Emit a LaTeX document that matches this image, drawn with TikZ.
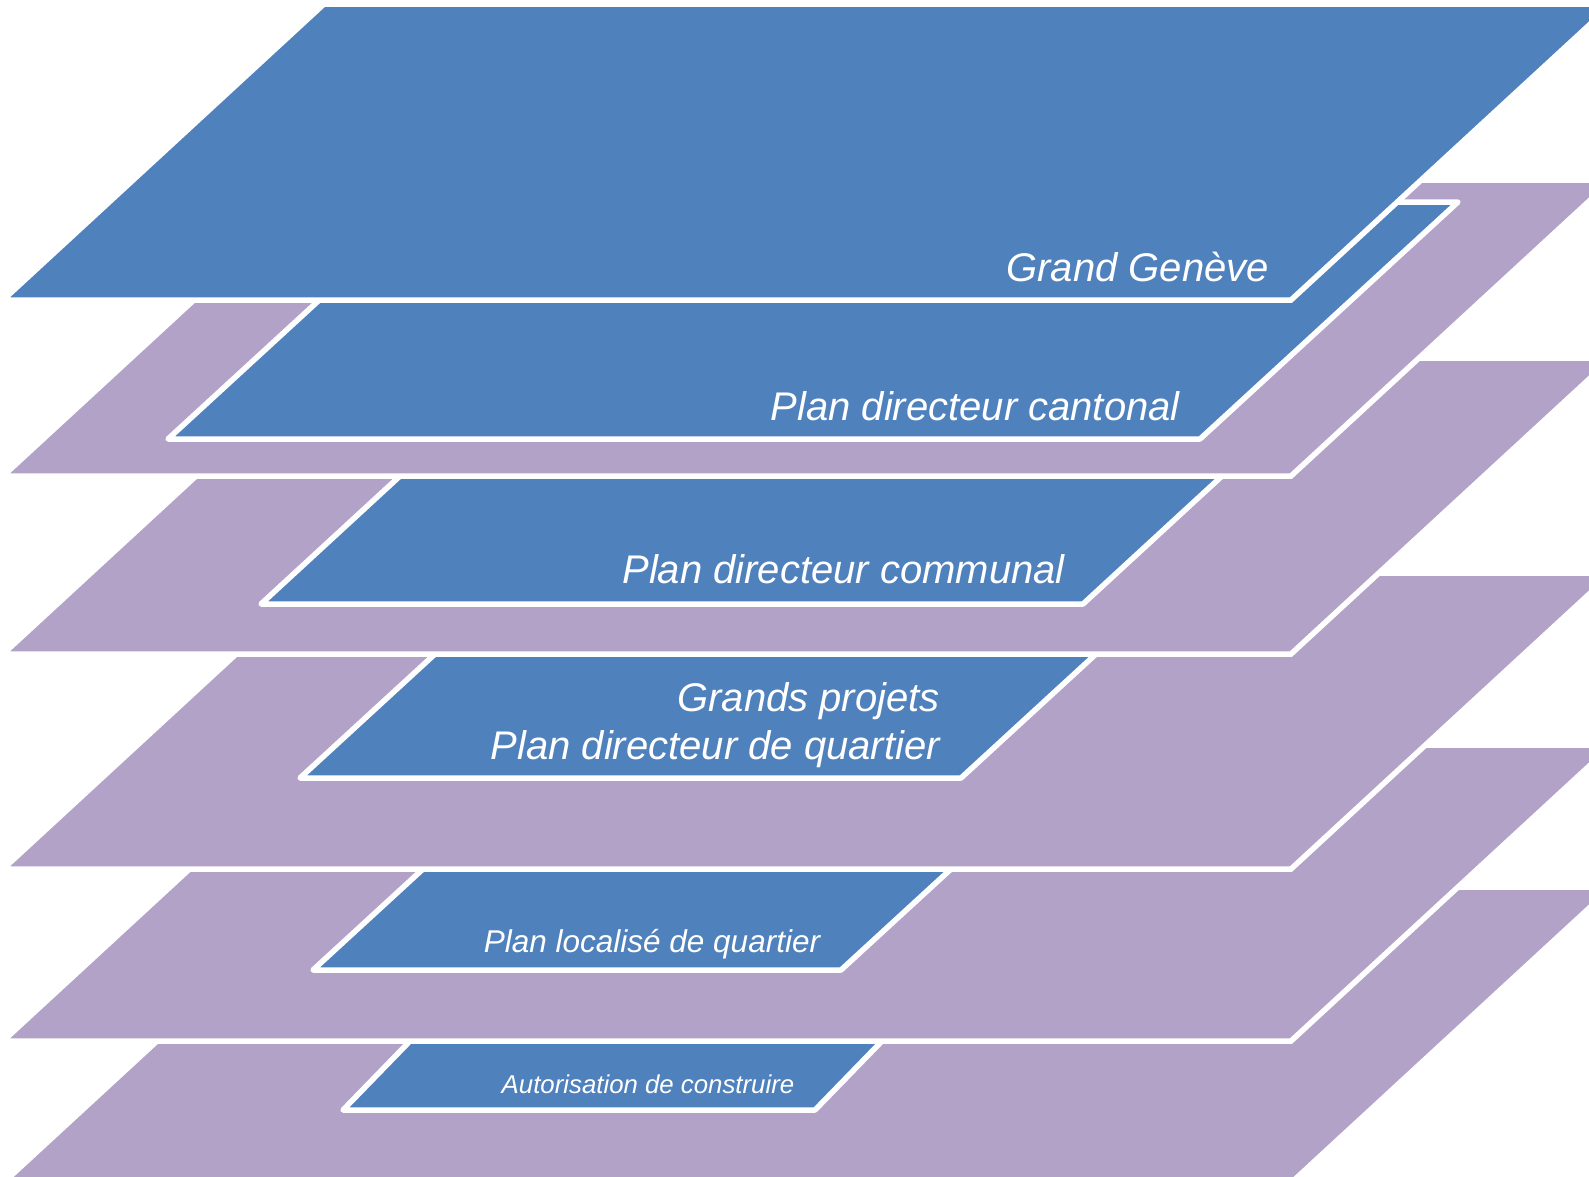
\documentclass[tikz,border=0pt]{standalone}
\usepackage{fontspec}
\setmainfont{Liberation Sans}
\definecolor{layerblue}{HTML}{4F81BD}
\definecolor{layerpurple}{HTML}{B2A2C7}
\tikzset{
  layer/.style={fill=layerpurple, draw=white, line width=5.5pt, line join=miter},
  toplayer/.style={fill=layerblue, draw=white, line width=5.5pt, line join=miter},
  innerplan/.style={fill=layerblue, draw=white, line width=5.5pt, line join=round},
  lbl/.style={text=white, font=\fontsize{40}{48}\selectfont\itshape, inner sep=0pt, anchor=base east},
  lblmid/.style={text=white, font=\fontsize{31.5}{38}\selectfont\itshape, inner sep=0pt, anchor=base},
  lblsmall/.style={text=white, font=\fontsize{25.8}{31}\selectfont\itshape, inner sep=0pt, anchor=base},
}
\begin{document}
\begin{tikzpicture}[x=1pt,y=-1pt]
\useasboundingbox (0,0) rectangle (1589,1176);
\clip (0,0) rectangle (1589,1176);
% layer 6
\draw[layer] (3,1183) -- (1291,1183) -- (1612,887) -- (324,887) -- cycle;
\draw[innerplan] (343,1110) -- (815,1110) -- (882,1041) -- (410,1041) -- cycle;
% layer 5
\draw[layer] (3,1041) -- (1291,1041) -- (1612,745) -- (324,745) -- cycle;
\draw[innerplan] (313,970) -- (841,970) -- (951,869) -- (423,869) -- cycle;
% layer 4
\draw[layer] (3,869) -- (1291,869) -- (1612,573) -- (324,573) -- cycle;
\draw[innerplan] (300,778) -- (961,778) -- (1096,654) -- (435,654) -- cycle;
% layer 3
\draw[layer] (3,654) -- (1291,654) -- (1612,358) -- (324,358) -- cycle;
\draw[innerplan] (261,604) -- (1083,604) -- (1222,476) -- (400,476) -- cycle;
% layer 2
\draw[layer] (3,476) -- (1291,476) -- (1612,180) -- (324,180) -- cycle;
\draw[innerplan] (168,439) -- (1200,439) -- (1458,202) -- (426,202) -- cycle;
% layer 1
\draw[toplayer] (3,300) -- (1291,300) -- (1612,4) -- (324,4) -- cycle;
% labels
\node[lbl] (t1) at (1269,281) {Grand Genève};
\node[lbl] (t2) at (1180,420) {Plan directeur cantonal};
\node[lbl] (t3) at (1065,583) {Plan directeur communal};
\node[lbl] (t4a) at (940,711) {Grands projets};
\node[lbl] (t4b) at (940,759) {Plan directeur de quartier};
\node[lblmid] (t5) at (652,952) {Plan localisé de quartier};
\node[lblsmall] (t6) at (648,1093) {Autorisation de construire};
\end{tikzpicture}
\end{document}
